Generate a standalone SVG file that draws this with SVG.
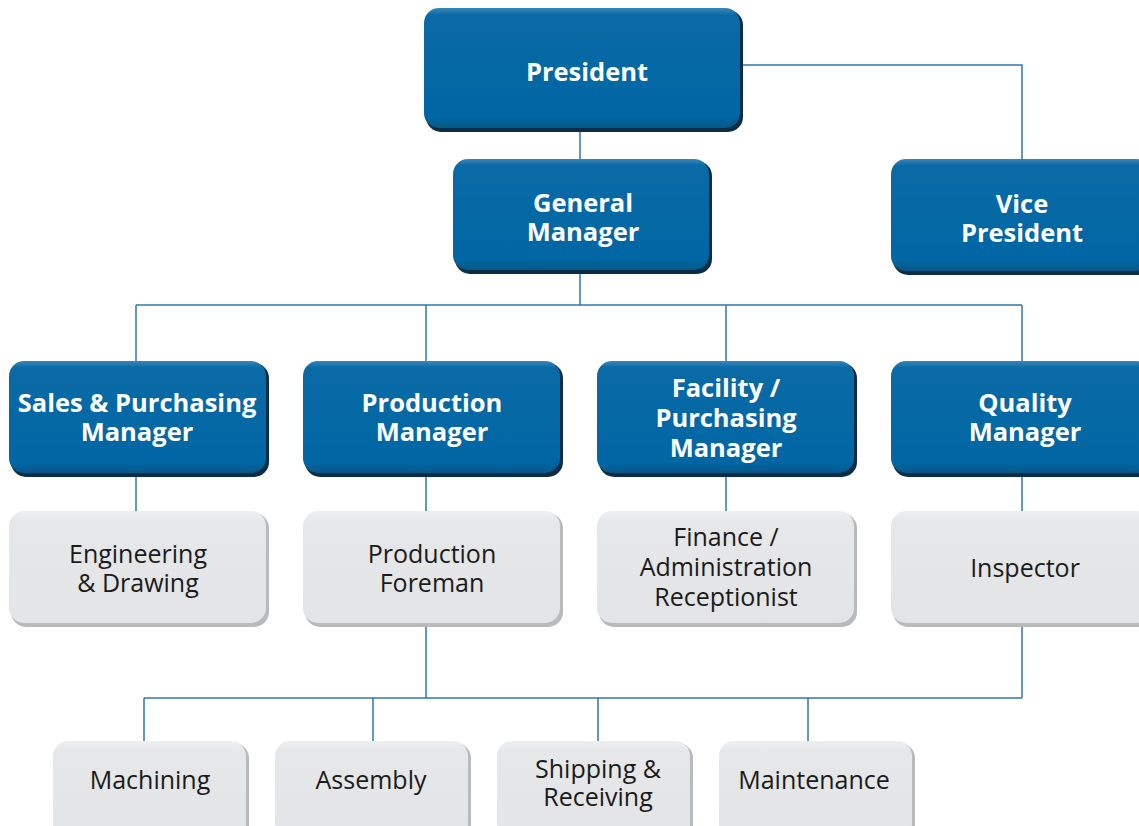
<svg xmlns="http://www.w3.org/2000/svg" width="1139" height="826" viewBox="0 0 1139 826">
  <style>
    .link { fill: none; stroke: #2f78b0; stroke-width: 1.5; }
    .blue { fill: url(#blueFill); }
    .blueShade { fill: #0b2d45; }
    .grey { fill: url(#greyFill); }
    .greyShade { fill: #b9babc; }
    .bt { font-family: "Open Sans", Lato, sans-serif; font-weight: 700; font-size: 25.5px; fill: #ffffff; text-anchor: middle; }
    .gt { font-family: "Open Sans", Lato, sans-serif; font-weight: 400; font-size: 25px; fill: #1a1a1a; text-anchor: middle; }
  </style>
  <defs>
    <linearGradient id="blueFill" x1="0" y1="0" x2="0" y2="1">
      <stop offset="0" stop-color="#3a86b9"/>
      <stop offset="0.06" stop-color="#0a6aa6"/>
      <stop offset="0.9" stop-color="#0067a4"/>
      <stop offset="1" stop-color="#075887"/>
    </linearGradient>
    <linearGradient id="greyFill" x1="0" y1="0" x2="0" y2="1">
      <stop offset="0" stop-color="#eeeff0"/>
      <stop offset="0.1" stop-color="#e6e7e8"/>
      <stop offset="1" stop-color="#e3e4e5"/>
    </linearGradient>
  </defs>
  <rect width="1139" height="826" fill="#ffffff"/>

  <g id="connectors">
    <path class="link" d="M742 65 H1022 V159"/>
    <path class="link" d="M580 131 V159"/>
    <path class="link" d="M580 273 V305 M136 305 H1022 M136 305 V361 M426 305 V361 M726 305 V361 M1022 305 V361"/>
    <path class="link" d="M136 476 V511 M426 476 V511 M726 476 V511 M1022 476 V511"/>
    <path class="link" d="M426 626 V698 M1022 626 V698 M144 698 H1022 M144 698 V741 M373 698 V741 M598 698 V741 M808 698 V741"/>
  </g>

  <g id="president">
    <rect class="blueShade" x="426" y="10" width="317" height="122" rx="15"/>
    <rect class="blue" x="424" y="8" width="316" height="120" rx="15"/>
    <text class="bt" x="587" y="81">President</text>
  </g>
  <g id="general-manager">
    <rect class="blueShade" x="455" y="161" width="257" height="113" rx="15"/>
    <rect class="blue" x="453" y="159" width="256" height="111" rx="15"/>
    <text class="bt" x="583" y="212">General</text>
    <text class="bt" x="583" y="241">Manager</text>
  </g>
  <g id="vice-president">
    <rect class="blueShade" x="893" y="161" width="260" height="114" rx="15"/>
    <rect class="blue" x="891" y="159" width="260" height="112" rx="15"/>
    <text class="bt" x="1022" y="213">Vice</text>
    <text class="bt" x="1022" y="242">President</text>
  </g>

  <g id="sales-purchasing-manager">
    <rect class="blueShade" x="11" y="363" width="258" height="114" rx="15"/>
    <rect class="blue" x="9" y="361" width="257" height="112" rx="15"/>
    <text class="bt" x="137" y="412">Sales &amp; Purchasing</text>
    <text class="bt" x="137" y="441">Manager</text>
  </g>
  <g id="production-manager">
    <rect class="blueShade" x="305" y="363" width="258" height="114" rx="15"/>
    <rect class="blue" x="303" y="361" width="257" height="112" rx="15"/>
    <text class="bt" x="432" y="412">Production</text>
    <text class="bt" x="432" y="441">Manager</text>
  </g>
  <g id="facility-purchasing-manager">
    <rect class="blueShade" x="599" y="363" width="258" height="114" rx="15"/>
    <rect class="blue" x="597" y="361" width="257" height="112" rx="15"/>
    <text class="bt" x="726" y="397">Facility /</text>
    <text class="bt" x="726" y="427">Purchasing</text>
    <text class="bt" x="726" y="457">Manager</text>
  </g>
  <g id="quality-manager">
    <rect class="blueShade" x="893" y="363" width="260" height="114" rx="15"/>
    <rect class="blue" x="891" y="361" width="260" height="112" rx="15"/>
    <text class="bt" x="1025" y="412">Quality</text>
    <text class="bt" x="1025" y="441">Manager</text>
  </g>

  <g id="engineering-drawing">
    <rect class="greyShade" x="11" y="513" width="258" height="114" rx="15"/>
    <rect class="grey" x="9" y="511" width="257" height="112" rx="15"/>
    <text class="gt" x="138" y="563">Engineering</text>
    <text class="gt" x="138" y="592">&amp; Drawing</text>
  </g>
  <g id="production-foreman">
    <rect class="greyShade" x="305" y="513" width="258" height="114" rx="15"/>
    <rect class="grey" x="303" y="511" width="257" height="112" rx="15"/>
    <text class="gt" x="432" y="563">Production</text>
    <text class="gt" x="432" y="592">Foreman</text>
  </g>
  <g id="finance-administration">
    <rect class="greyShade" x="599" y="513" width="258" height="114" rx="15"/>
    <rect class="grey" x="597" y="511" width="257" height="112" rx="15"/>
    <text class="gt" x="726" y="546">Finance /</text>
    <text class="gt" x="726" y="576">Administration</text>
    <text class="gt" x="726" y="606">Receptionist</text>
  </g>
  <g id="inspector">
    <rect class="greyShade" x="893" y="513" width="260" height="114" rx="15"/>
    <rect class="grey" x="891" y="511" width="260" height="112" rx="15"/>
    <text class="gt" x="1025" y="577">Inspector</text>
  </g>

  <g id="machining">
    <rect class="greyShade" x="55" y="743" width="194" height="100" rx="15"/>
    <rect class="grey" x="53" y="741" width="193" height="98" rx="15"/>
    <text class="gt" x="150" y="789">Machining</text>
  </g>
  <g id="assembly">
    <rect class="greyShade" x="277" y="743" width="194" height="100" rx="15"/>
    <rect class="grey" x="275" y="741" width="193" height="98" rx="15"/>
    <text class="gt" x="371" y="789">Assembly</text>
  </g>
  <g id="shipping-receiving">
    <rect class="greyShade" x="499" y="743" width="194" height="100" rx="15"/>
    <rect class="grey" x="497" y="741" width="193" height="98" rx="15"/>
    <text class="gt" x="598" y="778">Shipping &amp;</text>
    <text class="gt" x="598" y="806">Receiving</text>
  </g>
  <g id="maintenance">
    <rect class="greyShade" x="721" y="743" width="194" height="100" rx="15"/>
    <rect class="grey" x="719" y="741" width="193" height="98" rx="15"/>
    <text class="gt" x="814" y="789">Maintenance</text>
  </g>
</svg>
